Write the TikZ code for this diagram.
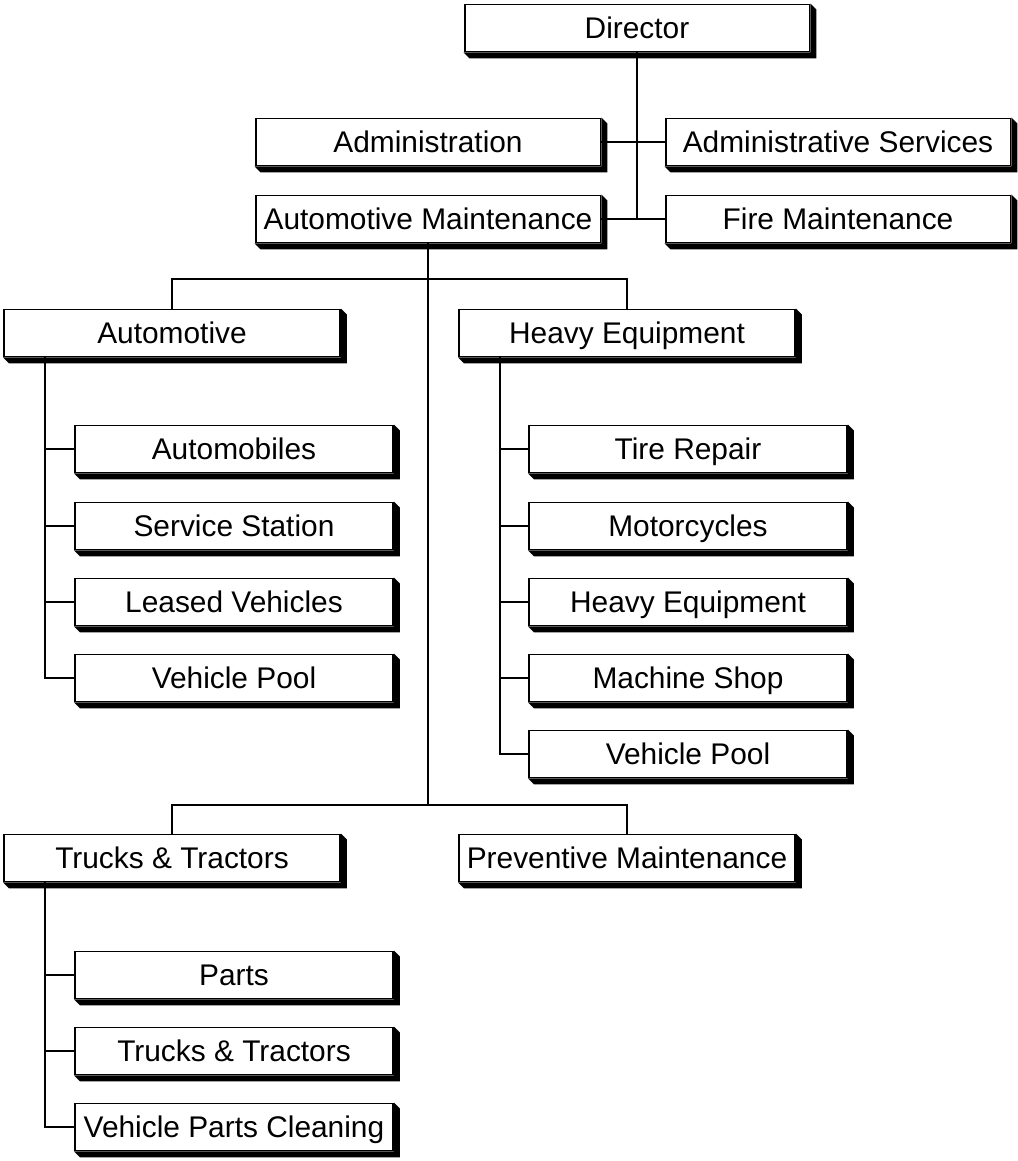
\documentclass[tikz,border=0pt]{standalone}
\usepackage{fontspec}
\setmainfont{Liberation Sans}
\begin{document}
\begin{tikzpicture}[x=0.02cm,y=-0.02cm,
  unit/.style={shape=rectangle,draw=black,line width=1.1pt,fill=white,minimum height=0.94cm,inner sep=0pt,text height=14pt,text depth=2pt,font=\fontsize{17}{20}\selectfont},
  wide/.style={unit,minimum width=6.9cm},
  mid/.style={unit,minimum width=6.72cm},
  small/.style={unit,minimum width=6.36cm},
  link/.style={line width=1.1pt}]
\useasboundingbox (0,0) rectangle (1018,1161);
% top of the chart
\node[wide] (D) at (637,28) {Director};
\node[wide] (AD) at (428,142) {Administration};
\node[wide] (AS) at (838,142) {Administrative Services};
\node[wide] (AM) at (428,219) {Automotive Maintenance};
\node[wide] (FM) at (838,219) {Fire Maintenance};
% divisions
\node[mid] (AU) at (172,333) {Automotive};
\node[mid] (HE) at (627,333) {Heavy Equipment};
\node[mid] (TT) at (172,858) {Trucks \& Tractors};
\node[mid] (PM) at (627,858) {Preventive Maintenance};
% sections
\node[small] (AU1) at (234,449) {Automobiles};
\node[small] (AU2) at (234,526) {Service Station};
\node[small] (AU3) at (234,602) {Leased Vehicles};
\node[small] (AU4) at (234,678) {Vehicle Pool};
\node[small] (HE1) at (688,449) {Tire Repair};
\node[small] (HE2) at (688,526) {Motorcycles};
\node[small] (HE3) at (688,602) {Heavy Equipment};
\node[small] (HE4) at (688,678) {Machine Shop};
\node[small] (HE5) at (688,754) {Vehicle Pool};
\node[small] (TT1) at (234,975) {Parts};
\node[small] (TT2) at (234,1051) {Trucks \& Tractors};
\node[small] (TT3) at (234,1127) {Vehicle Parts Cleaning};
% shadows
\foreach \n in {D,AD,AS,AM,FM,AU,HE,TT,PM,AU1,AU2,AU3,AU4,HE1,HE2,HE3,HE4,HE5,TT1,TT2,TT3}
  \fill (\n.south west) -- ([shift={(6,6)}]\n.south west) -- ([shift={(6,6)}]\n.south east)
    -- ([shift={(6,6)}]\n.north east) -- (\n.north east) -- (\n.south east) -- cycle;
% connectors
\coordinate (busA) at (428,279);
\coordinate (busB) at (428,805);
\coordinate (trAU) at (45,0);
\coordinate (trHE) at (500,0);
\coordinate (trTT) at (45,0);
\draw[link] (D.south) -- (D.south |- FM.west);
\draw[link] (AD.east) -- (AS.west);
\draw[link] (AM.east) -- (FM.west);
\draw[link] (AM.south) -- (busB);
\draw[link] (AU.north) |- (busA) -| (HE.north);
\draw[link] (TT.north) |- (busB) -| (PM.north);
\draw[link] (trAU |- AU.south) |- (AU4.west);
\draw[link] (trHE |- HE.south) |- (HE5.west);
\draw[link] (trTT |- TT.south) |- (TT3.west);
\foreach \c in {AU1,AU2,AU3}
  \draw[link] (\c.west) -- (\c.west -| trAU);
\foreach \c in {HE1,HE2,HE3,HE4}
  \draw[link] (\c.west) -- (\c.west -| trHE);
\foreach \c in {TT1,TT2}
  \draw[link] (\c.west) -- (\c.west -| trTT);
\end{tikzpicture}
\end{document}
